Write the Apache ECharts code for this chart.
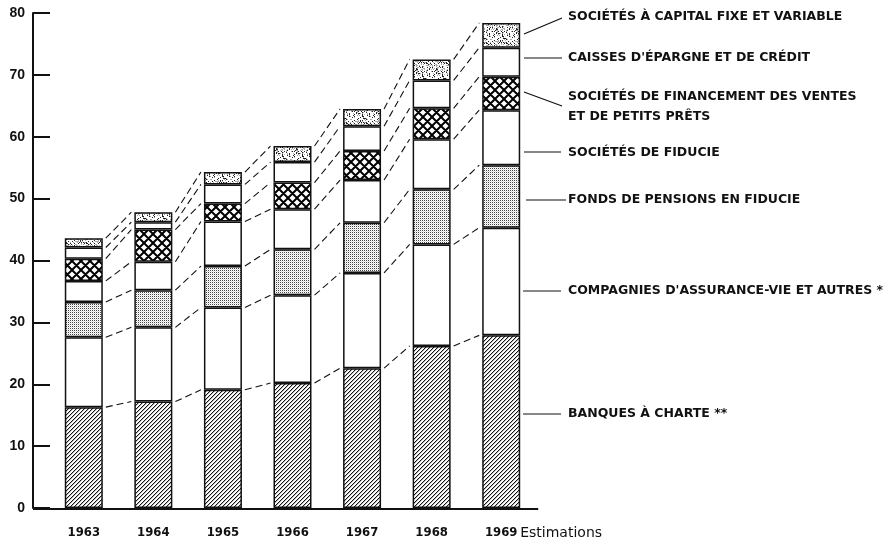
<!DOCTYPE html>
<html>
<head>
<meta charset="utf-8">
<script src="https://cdn.jsdelivr.net/npm/echarts@6/dist/echarts.min.js"></script>
<style>
  html, body { margin: 0; padding: 0; background: #fff; }
  #chart { width: 894px; height: 544px; }
</style>
</head>
<body>
<div id="chart"></div>
<script>
// data (milliards de dollars)
const years = ['1963', '1964', '1965', '1966', '1967', '1968', '1969'];
const banques = [16.3, 17.2, 19.1, 20.2, 22.6, 26.2, 27.9];
const assurance = [11.3, 12.0, 13.3, 14.2, 15.4, 16.4, 17.4];
const pensions = [5.7, 6.0, 6.7, 7.4, 8.1, 8.9, 10.1];
const fiducie = [3.4, 4.6, 7.2, 6.5, 6.9, 8.1, 8.9];
const financement = [3.6, 5.2, 2.9, 4.3, 4.7, 5.0, 5.4];
const caisses = [1.8, 1.2, 3.1, 3.3, 4.0, 4.5, 4.7];
const capital = [1.5, 1.6, 2.0, 2.6, 2.8, 3.4, 4.0];
const yTicks = [0, 10, 20, 30, 40, 50, 60, 70, 80];
const seriesNames = [
  'BANQUES À CHARTE **',
  "COMPAGNIES D'ASSURANCE-VIE ET AUTRES *",
  'FONDS DE PENSIONS EN FIDUCIE',
  'SOCIÉTÉS DE FIDUCIE',
  'SOCIÉTÉS DE FINANCEMENT DES VENTES\nET DE PETITS PRÊTS',
  "CAISSES D'ÉPARGNE ET DE CRÉDIT",
  'SOCIÉTÉS À CAPITAL FIXE ET VARIABLE'
];
const levels = [banques, assurance, pensions, fiducie, financement, caisses, capital];

const BAR_W = 38;
const INK = '#111';

// --- fill textures ---
function makeTile(size, draw) {
  const c = document.createElement('canvas');
  c.width = c.height = size;
  const ctx = c.getContext('2d');
  ctx.fillStyle = '#fff';
  ctx.fillRect(0, 0, size, size);
  draw(ctx, size);
  return c;
}
function hash(x, y, s) {
  let h = (x * 374761393 + y * 668265263 + s * 982451653) | 0;
  h = Math.imul(h ^ (h >>> 13), 1274126177);
  return ((h ^ (h >>> 16)) >>> 0) / 4294967296;
}
const hatch = makeTile(4, (ctx, n) => {
  for (let x = 0; x < n; x++) for (let y = 0; y < n; y++) {
    const m = (x + y) % 4;
    if (m === 0) { ctx.fillStyle = '#111'; ctx.fillRect(x, y, 1, 1); }
    if (m === 1) { ctx.fillStyle = '#bbb'; ctx.fillRect(x, y, 1, 1); }
  }
});
// fine halftone grid
const stippleDense = makeTile(2, ctx => {
  ctx.fillStyle = '#444'; ctx.fillRect(0, 0, 1, 1);
  ctx.fillStyle = '#ddd'; ctx.fillRect(1, 1, 1, 1);
});
// coarse irregular speckle
const stippleLight = makeTile(20, (ctx, n) => {
  for (let x = 0; x < n; x++) for (let y = 0; y < n; y++) {
    const r = hash(x, y, 7);
    if (r < 0.15) { ctx.fillStyle = '#222'; ctx.fillRect(x, y, 1, 1); }
    else if (r < 0.3) { ctx.fillStyle = '#aaa'; ctx.fillRect(x, y, 1, 1); }
  }
});
const cross = makeTile(9, (ctx, n) => {
  ctx.strokeStyle = '#000';
  ctx.lineWidth = 2;
  ctx.beginPath();
  for (const o of [-n, 0, n]) {
    ctx.moveTo(o, 0); ctx.lineTo(o + n, n);
    ctx.moveTo(o + n, 0); ctx.lineTo(o, n);
  }
  ctx.stroke();
});
const fills = [
  { image: hatch, repeat: 'repeat' },
  '#fff',
  { image: stippleDense, repeat: 'repeat' },
  '#fff',
  { image: cross, repeat: 'repeat' },
  '#fff',
  { image: stippleLight, repeat: 'repeat' }
];

// cumulative tops, used by the dashed connectors
const cum = levels.map((_, k) => years.map((_, i) =>
  levels.slice(0, k + 1).reduce((s, arr) => s + arr[i], 0)));
const linkData = [];
cum.forEach(row => {
  for (let i = 0; i < years.length - 1; i++) linkData.push([i, row[i], row[i + 1]]);
});

const chart = echarts.init(document.getElementById('chart'), null, { renderer: 'canvas' });

const barSeries = levels.map((arr, k) => ({
  name: seriesNames[k],
  type: 'bar',
  stack: 'total',
  barWidth: BAR_W,
  data: arr,
  itemStyle: { color: fills[k], borderColor: INK, borderWidth: 1.5 },
  z: 3
}));

const option = {
  animation: false,
  backgroundColor: '#fff',
  grid: { left: 49, width: 487, top: 13, bottom: 36 },
  xAxis: {
    type: 'category',
    data: years,
    axisLine: { show: false },
    axisTick: { show: false },
    axisLabel: {
      color: INK,
      fontFamily: '"Liberation Sans Narrow", "DejaVu Sans Condensed", "Liberation Sans"',
      fontWeight: 'bold',
      fontSize: 13,
      margin: 18
    }
  },
  yAxis: {
    type: 'value',
    min: yTicks[0],
    max: yTicks[yTicks.length - 1],
    interval: 10,
    offset: 16,
    splitLine: { show: false },
    axisLine: { show: true, lineStyle: { color: INK, width: 2 } },
    axisTick: { show: true, inside: true, length: 17, lineStyle: { color: INK, width: 2 } },
    axisLabel: {
      color: INK,
      fontFamily: '"Liberation Sans", Arial',
      fontWeight: 'bold',
      fontSize: 14,
      margin: 8
    }
  },
  series: barSeries.concat([{
    type: 'custom',
    data: linkData,
    encode: { x: 0, y: 1 },
    z: 2,
    silent: true,
    renderItem: (params, api) => {
      const i = api.value(0);
      const a = api.coord([i, api.value(1)]);
      const b = api.coord([i + 1, api.value(2)]);
      return {
        type: 'line',
        shape: { x1: a[0] + BAR_W / 2 + 3, y1: a[1], x2: b[0] - BAR_W / 2 - 3, y2: b[1] },
        style: { stroke: INK, lineWidth: 1.1, lineDash: [7, 4] }
      };
    }
  }])
};
chart.setOption(option);

// baseline, "Estimations" note and the right-hand legend with leader lines
const zero = chart.convertToPixel({ xAxisIndex: 0, yAxisIndex: 0 }, [0, 0]);
const last = chart.convertToPixel({ xAxisIndex: 0, yAxisIndex: 0 }, [years.length - 1, 0]);
const labelFont = 'bold 12.5px "DejaVu Sans", sans-serif';
const legendItems = [
  { text: seriesNames[6], y: 17, line: [524, 34, 562, 18] },
  { text: seriesNames[5], y: 58, line: [524, 58, 562, 58] },
  { text: seriesNames[4], y: 107, line: [524, 92, 562, 106] },
  { text: seriesNames[3], y: 153, line: [524, 152, 561, 152] },
  { text: seriesNames[2], y: 200, line: [526, 200, 566, 200] },
  { text: seriesNames[1], y: 291, line: [523, 291, 561, 291] },
  { text: seriesNames[0], y: 414, line: [523, 414, 561, 414] }
];
const graphics = [{
  type: 'line',
  shape: { x1: 33, y1: zero[1] + 1, x2: last[0] + 37, y2: zero[1] + 1 },
  style: { stroke: INK, lineWidth: 2 },
  z: 10
}, {
  type: 'text',
  x: last[0] + 19,
  y: zero[1] + 25,
  style: {
    text: 'Estimations',
    font: '14px "DejaVu Sans", sans-serif',
    fill: INK,
    verticalAlign: 'middle'
  },
  z: 10
}];
legendItems.forEach(it => {
  graphics.push({
    type: 'line',
    shape: { x1: it.line[0], y1: it.line[1], x2: it.line[2], y2: it.line[3] },
    style: { stroke: INK, lineWidth: 1.2 },
    z: 10
  });
  graphics.push({
    type: 'text',
    x: 568,
    y: it.y,
    style: {
      text: it.text,
      font: labelFont,
      fill: INK,
      verticalAlign: 'middle',
      lineHeight: 20
    },
    z: 10
  });
});
chart.setOption({ graphic: graphics });
</script>
</body>
</html>
